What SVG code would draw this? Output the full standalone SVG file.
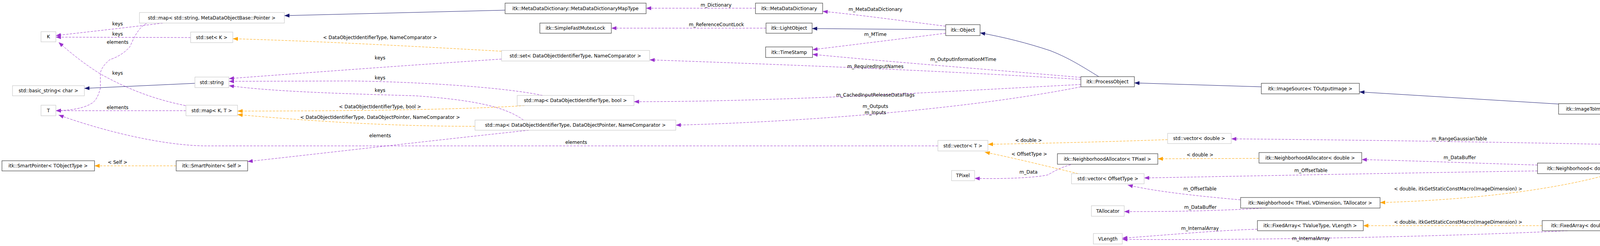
<svg xmlns="http://www.w3.org/2000/svg" width="4973" height="629" viewBox="0 0 4973 629">
<style>
text{font-family:"DejaVu Sans","Liberation Sans",sans-serif;font-size:12px;fill:#000}
.n text{text-anchor:middle}
.g rect{fill:#fff;stroke:#bfbfbf;stroke-width:1}
.b rect{fill:#fff;stroke:#404040;stroke-width:1.2}
.main rect{fill:#bfbfbf;stroke:#404040;stroke-width:1.2}
.p{fill:none;stroke:#9a32cd;stroke-dasharray:6,3;marker-end:url(#ap)}
.o{fill:none;stroke:#ffa500;stroke-dasharray:6,3;marker-end:url(#ao)}
.i{fill:none;stroke:#191970;marker-end:url(#ai)}
.l{text-anchor:middle}
</style>
<defs>
<marker id="ap" markerUnits="userSpaceOnUse" markerWidth="14" markerHeight="10" refX="13" refY="5" orient="auto"><path d="M0,0L13,5L0,10z" fill="#9a32cd"/></marker>
<marker id="ao" markerUnits="userSpaceOnUse" markerWidth="14" markerHeight="10" refX="13" refY="5" orient="auto"><path d="M0,0L13,5L0,10z" fill="#ffa500"/></marker>
<marker id="ai" markerUnits="userSpaceOnUse" markerWidth="14" markerHeight="10" refX="13" refY="5" orient="auto"><path d="M0,0L13,5L0,10z" fill="#191970"/></marker>
</defs>
<rect width="4973" height="629" fill="#fff"/>
<g id="connectors">
<path class="i" d="M1293,26 L728,40"/>
<path class="p" d="M1934,21 L1654,21"/>
<path class="p" d="M417,59 C330,70 220,82 143,91"/>
<path class="p" d="M375,60 C350,72 338,110 332,120 C315,140 290,150 282,152 C265,165 257,180 257,189 L257,225 C252,245 245,257 238,262 C220,275 190,282 143,283"/>
<path class="p" d="M488,96 L143,95"/>
<path class="p" d="M475,270 C400,255 330,230 257,189 C210,160 175,130 150,108"/>
<path class="p" d="M476,283 L143,283"/>
<path class="p" d="M2401,373 L520,373 C400,370 250,330 150,294"/>
<path class="p" d="M1354,333 C1100,360 800,395 634,413"/>
<path class="i" d="M499,213 L216,226"/>
<path class="p" d="M1284,151 C1000,170 800,185 586,201"/>
<path class="p" d="M1389,244 C1300,225 1100,210 900,207 L586,208"/>
<path class="p" d="M1340,307 C1290,270 1200,255 1065,245 C900,240 700,235 586,219"/>
<path class="o" d="M1284,131 C1000,115 800,105 596,99"/>
<path class="o" d="M1343,270 C1200,280 900,284 608,284"/>
<path class="o" d="M1216,323 C1000,323 800,310 608,293"/>
<path class="p" d="M2767,203 C2400,180 2000,165 1663,153"/>
<path class="p" d="M2767,216 C2400,235 2000,260 1623,260"/>
<path class="p" d="M2767,222 C2500,275 2100,310 1730,320"/>
<path class="p" d="M2767,198 C2500,175 2300,160 2080,139"/>
<path class="p" d="M2421,85 C2300,100 2180,115 2080,127"/>
<path class="i" d="M2421,76 L2079,73"/>
<path class="p" d="M2421,67 C2300,52 2200,38 2106,29"/>
<path class="p" d="M1961,72 L1565,72"/>
<path class="i" d="M2813,196 C2770,170 2740,150 2690,130 C2630,110 2570,95 2509,84"/>
<path class="i" d="M3229,222 L2904,212"/>
<path class="i" d="M3990,266 L3480,235"/>
<path class="i" d="M4726,369 C4600,340 4450,315 4289,292"/>
<path class="p" d="M4592,380 C4200,370 3700,360 3152,355"/>
<path class="p" d="M4607,396 C4500,405 4420,411 4348,417"/>
<path class="p" d="M4737,396 C4600,430 4400,500 4229,564"/>
<path class="p" d="M3936,422 C3800,418 3650,412 3486,408"/>
<path class="p" d="M3936,437 C3600,442 3200,450 2929,455"/>
<path class="o" d="M4125,444 C4000,480 3800,510 3533,518"/>
<path class="o" d="M3948,577 L3490,577"/>
<path class="p" d="M4013,590 C3700,605 3200,615 2873,612"/>
<path class="p" d="M3219,586 C3100,590 3000,600 2873,609"/>
<path class="p" d="M3176,511 C3050,500 2950,488 2887,473"/>
<path class="p" d="M3240,532 C3100,540 3000,541 2878,541"/>
<path class="o" d="M3223,405 L2964,406"/>
<path class="p" d="M2741,421 C2710,430 2695,440 2683,447 C2650,455 2560,458 2495,456"/>
<path class="o" d="M2989,357 C2850,362 2700,366 2529,369"/>
<path class="o" d="M2760,444 C2680,425 2600,405 2521,389"/>
<path class="o" d="M451,424 L242,424"/>
</g>
<g id="labels">
<text class="l" x="1833" y="17">m_Dictionary</text>
<text class="l" x="301" y="65">keys</text>
<text class="l" x="301" y="91">keys</text>
<text class="l" x="301" y="112">elements</text>
<text class="l" x="301" y="191">keys</text>
<text class="l" x="301" y="279">elements</text>
<text class="l" x="301" y="419">&lt; Self &gt;</text>
<text class="l" x="973" y="100">&lt; DataObjectIdentifierType, NameComparator &gt;</text>
<text class="l" x="973" y="152">keys</text>
<text class="l" x="973" y="203">keys</text>
<text class="l" x="973" y="235">keys</text>
<text class="l" x="973" y="277">&lt; DataObjectIdentifierType, bool &gt;</text>
<text class="l" x="973" y="304">&lt; DataObjectIdentifierType, DataObjectPointer, NameComparator &gt;</text>
<text class="l" x="973" y="351">elements</text>
<text class="l" x="1475" y="368">elements</text>
<text class="l" x="1834" y="67">m_ReferenceCountLock</text>
<text class="l" x="2241" y="28">m_MetaDataDictionary</text>
<text class="l" x="2241" y="92">m_MTime</text>
<text class="l" x="2466" y="156">m_OutputInformationMTime</text>
<text class="l" x="2241" y="174">m_RequiredInputNames</text>
<text class="l" x="2241" y="247">m_CachedInputReleaseDataFlags</text>
<text class="l" x="2241" y="276">m_Outputs</text>
<text class="l" x="2241" y="292">m_Inputs</text>
<text class="l" x="2633" y="363">&lt; double &gt;</text>
<text class="l" x="2635" y="398">&lt; OffsetType &gt;</text>
<text class="l" x="2633" y="444">m_Data</text>
<text class="l" x="3072" y="400">&lt; double &gt;</text>
<text class="l" x="3072" y="487">m_OffsetTable</text>
<text class="l" x="3073" y="534">m_DataBuffer</text>
<text class="l" x="3072" y="588">m_InternalArray</text>
<text class="l" x="3736" y="359">m_RangeGaussianTable</text>
<text class="l" x="3737" y="407">m_DataBuffer</text>
<text class="l" x="3356" y="440">m_OffsetTable</text>
<text class="l" x="3733" y="487">&lt; double, itkGetStaticConstMacro(ImageDimension) &gt;</text>
<text class="l" x="3733" y="572">&lt; double, itkGetStaticConstMacro(ImageDimension) &gt;</text>
<text class="l" x="3356" y="614">m_InternalArray</text>
<text class="l" x="4508" y="396">m_GaussianKernel</text>
<text class="l" x="4509" y="452">m_DomainSigma</text>
</g>
<g id="K" class="n g"><rect x="105" y="81" width="38" height="26"/><text x="124" y="98">K</text></g>
<g id="basic_string" class="n g"><rect x="32" y="219" width="184" height="26"/><text x="124" y="236">std::basic_string&lt; char &gt;</text></g>
<g id="T" class="n g"><rect x="105" y="269" width="38" height="27"/><text x="124" y="287">T</text></g>
<g id="map_md" class="n g"><rect x="357" y="32" width="371" height="27"/><text x="542" y="50">std::map&lt; std::string, MetaDataObjectBase::Pointer &gt;</text></g>
<g id="set_k" class="n g"><rect x="488" y="82" width="108" height="27"/><text x="542" y="100">std::set&lt; K &gt;</text></g>
<g id="string" class="n g"><rect x="499" y="197" width="87" height="27"/><text x="542" y="215">std::string</text></g>
<g id="map_kt" class="n g"><rect x="476" y="269" width="132" height="27"/><text x="542" y="287">std::map&lt; K, T &gt;</text></g>
<g id="sp_t" class="n b"><rect x="5" y="411" width="237" height="26"/><text x="123" y="428">itk::SmartPointer&lt; TObjectType &gt;</text></g>
<g id="sp_self" class="n b"><rect x="451" y="411" width="183" height="26"/><text x="542" y="428">itk::SmartPointer&lt; Self &gt;</text></g>
<g id="set_doit" class="n g"><rect x="1284" y="129" width="379" height="27"/><text x="1473" y="147">std::set&lt; DataObjectIdentifierType, NameComparator &gt;</text></g>
<g id="map_dop" class="n g"><rect x="1216" y="307" width="514" height="26"/><text x="1473" y="324">std::map&lt; DataObjectIdentifierType, DataObjectPointer, NameComparator &gt;</text></g>
<g id="maptype" class="n b"><rect x="1293" y="8" width="361" height="27"/><text x="1473" y="26">itk::MetaDataDictionary::MetaDataDictionaryMapType</text></g>
<g id="mutex" class="n b"><rect x="1382" y="59" width="183" height="26"/><text x="1473" y="76">itk::SimpleFastMutexLock</text></g>
<g id="map_bool" class="n g"><rect x="1324" y="244" width="299" height="26"/><text x="1473" y="261">std::map&lt; DataObjectIdentifierType, bool &gt;</text></g>
<g id="mdd" class="n b"><rect x="1934" y="8" width="172" height="27"/><text x="2020" y="26">itk::MetaDataDictionary</text></g>
<g id="light" class="n b"><rect x="1961" y="59" width="118" height="26"/><text x="2020" y="76">itk::LightObject</text></g>
<g id="object" class="n b"><rect x="2421" y="63" width="88" height="28"/><text x="2465" y="81">itk::Object</text></g>
<g id="timestamp" class="n b"><rect x="1960" y="120" width="120" height="27"/><text x="2020" y="138">itk::TimeStamp</text></g>
<g id="vec_t" class="n g"><rect x="2401" y="359" width="128" height="27"/><text x="2465" y="377">std::vector&lt; T &gt;</text></g>
<g id="tpixel" class="n g"><rect x="2436" y="436" width="59" height="26"/><text x="2465" y="453">TPixel</text></g>
<g id="process" class="n b"><rect x="2767" y="196" width="137" height="26"/><text x="2835" y="213">itk::ProcessObject</text></g>
<g id="imagesource" class="n b"><rect x="3229" y="213" width="251" height="27"/><text x="3354" y="231">itk::ImageSource&lt; TOutputImage &gt;</text></g>
<g id="vec_d" class="n g"><rect x="2989" y="341" width="163" height="26"/><text x="3070" y="358">std::vector&lt; double &gt;</text></g>
<g id="nalloc_t" class="n b"><rect x="2707" y="393" width="257" height="27"/><text x="2835" y="411">itk::NeighborhoodAllocator&lt; TPixel &gt;</text></g>
<g id="vec_off" class="n g"><rect x="2743" y="444" width="186" height="26"/><text x="2836" y="461">std::vector&lt; OffsetType &gt;</text></g>
<g id="nb_t" class="n b"><rect x="3176" y="505" width="357" height="27"/><text x="3354" y="523">itk::Neighborhood&lt; TPixel, VDimension, TAllocator &gt;</text></g>
<g id="tallocator" class="n g"><rect x="2794" y="526" width="84" height="27"/><text x="2836" y="544">TAllocator</text></g>
<g id="fa_t" class="n b"><rect x="3219" y="564" width="271" height="26"/><text x="3354" y="581">itk::FixedArray&lt; TValueType, VLength &gt;</text></g>
<g id="nalloc_d" class="n b"><rect x="3223" y="390" width="263" height="27"/><text x="3354" y="408">itk::NeighborhoodAllocator&lt; double &gt;</text></g>
<g id="vlength" class="n g"><rect x="2799" y="597" width="74" height="27"/><text x="2836" y="615">VLength</text></g>
<g id="i2i" class="n b"><rect x="3990" y="265" width="377" height="27"/><text x="4178" y="283">itk::ImageToImageFilter&lt; TInputImage, TOutputImage &gt;</text></g>
<g id="nb_d" class="n b"><rect x="3936" y="417" width="485" height="27"/><text x="4178" y="435">itk::Neighborhood&lt; double, itkGetStaticConstMacro(ImageDimension) &gt;</text></g>
<g id="fa_d" class="n b"><rect x="3948" y="564" width="461" height="26"/><text x="4178" y="581">itk::FixedArray&lt; double, itkGetStaticConstMacro(ImageDimension) &gt;</text></g>
<g id="bilateral" class="n main"><rect x="4592" y="369" width="376" height="27"/><text x="4780" y="387">itk::BilateralImageFilter&lt; TInputImage, TOutputImage &gt;</text></g>
</svg>
